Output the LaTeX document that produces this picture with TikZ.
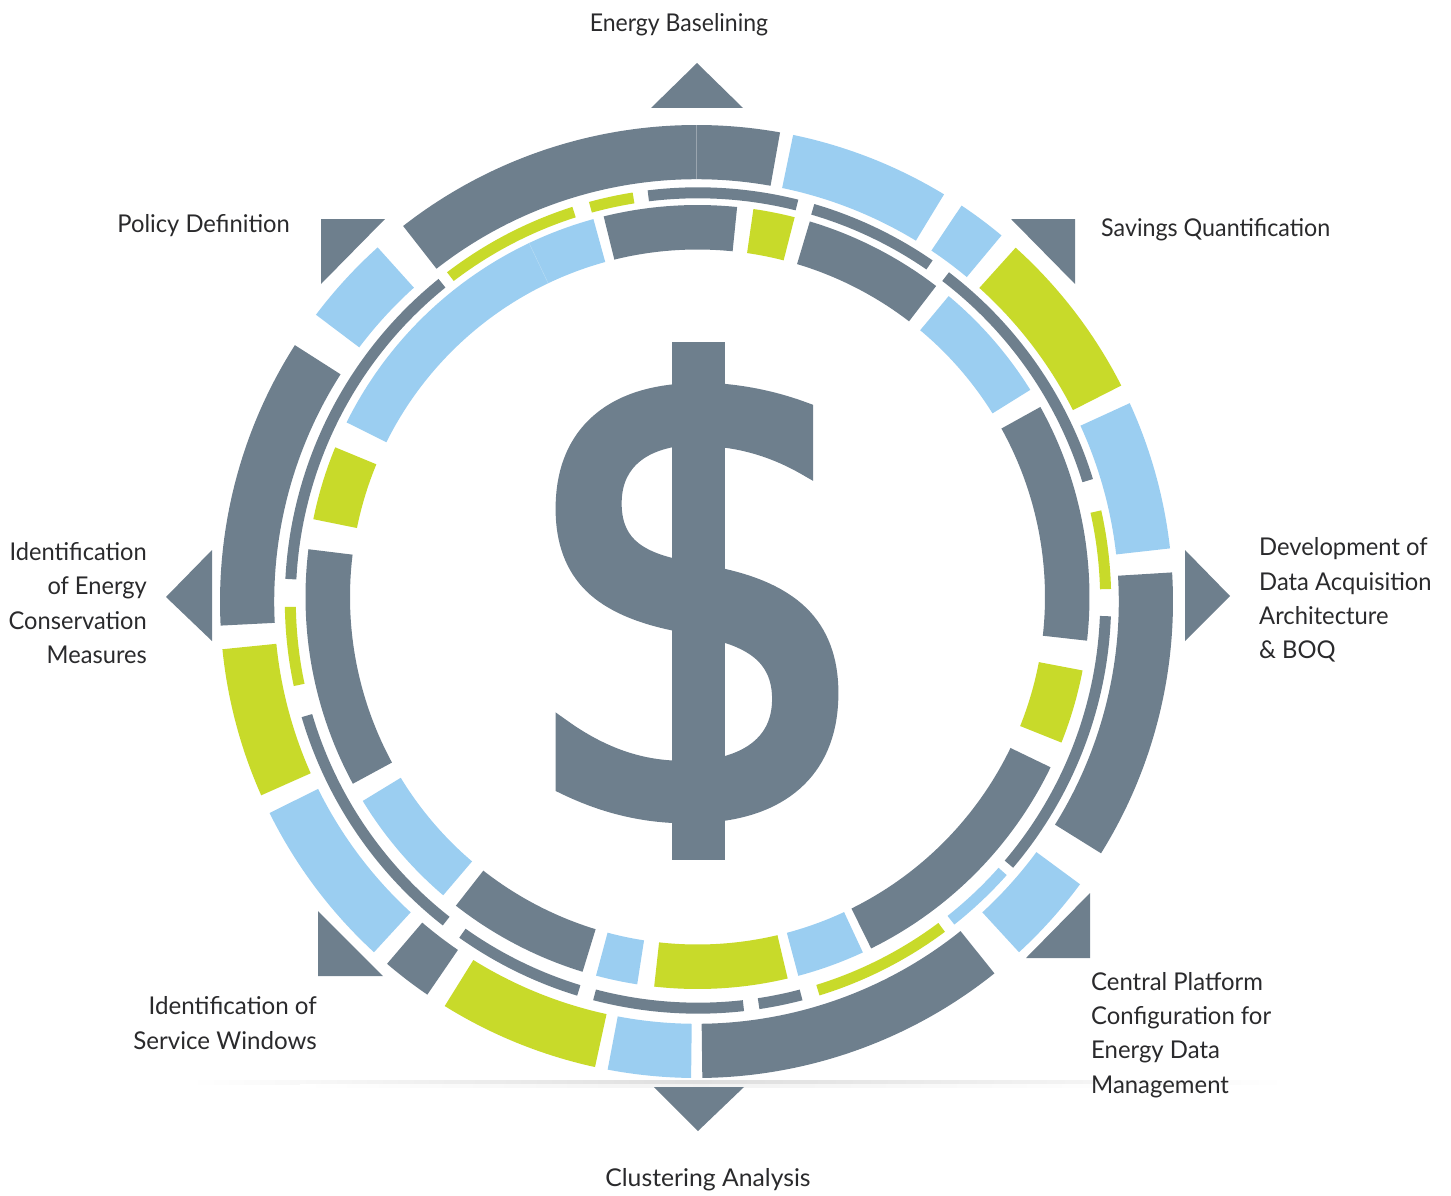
\documentclass[tikz,border=0pt]{standalone}
\usepackage{fontspec}
\setmainfont{Lato}
\newfontfamily\dollarfont{DejaVu Sans}[FakeBold=2.6]
\definecolor{slatec}{HTML}{6E7F8D}
\definecolor{skyc}{HTML}{9BCEF1}
\definecolor{limec}{HTML}{C8DA2A}
\definecolor{inkc}{HTML}{2A2A2C}
\newcommand{\ringseg}[5]{\fill[#5] (#3:#1) arc[start angle=#3,end angle=#4,radius=#1] -- (#4:#2) arc[start angle=#4,end angle=#3,radius=#2] -- cycle;}
\tikzset{
  lbl/.style={font=\fontsize{24.5}{34.3}\selectfont,text=inkc,inner sep=0pt},
  lblL/.style={lbl,align=right,anchor=east},
  lblR/.style={lbl,align=left,anchor=west},
  lblC/.style={lbl,align=center},
  marker/.style={fill=slatec}
}
\begin{document}
\begin{tikzpicture}[x=1pt,y=-1pt]
\useasboundingbox (0,0) rectangle (1451,1196);
% faint shadow line
\shade[left color=white,right color=gray!26] (190,1080) rectangle (700,1084);
\shade[left color=gray!26,right color=white] (700,1080) rectangle (1285,1084);
\shade[left color=white,right color=gray!10] (300,1084) rectangle (700,1087);
\shade[left color=gray!10,right color=white] (700,1084) rectangle (1150,1087);
% outer ring
\begin{scope}[shift={(696.5,601.5)},y=1pt]
\def\ra{476.5}\def\rb{422.3}
\ringseg{\ra}{\rb}{79.9}{128}{slatec}
\ringseg{\ra}{\rb}{58.7}{78.3}{skyc}
\ringseg{\ra}{\rb}{50.2}{56.2}{skyc}
\ringseg{\ra}{\rb}{26.95}{47.95}{limec}
\ringseg{\ra}{\rb}{6.4}{24.6}{skyc}
\ringseg{\ra}{\rb}{-31.9}{3.5}{slatec}
\ringseg{\ra}{\rb}{-47.4}{-36.4}{skyc}
\ringseg{\ra}{\rb}{-89.3}{-51.3}{slatec}
\ringseg{\ra}{\rb}{-100.75}{-90.65}{skyc}
\ringseg{\ra}{\rb}{-121.9}{-102.3}{limec}
\ringseg{\ra}{\rb}{-130.5}{-124.4}{slatec}
\ringseg{\ra}{\rb}{-153.65}{-132.6}{skyc}
\ringseg{\ra}{\rb}{-174.25}{-156}{limec}
\ringseg{\ra}{\rb}{147.45}{182.9}{slatec}
\ringseg{\ra}{\rb}{132}{143}{skyc}
\draw[slatec!70!white,line width=0.5pt] (90:\rb) -- (90:\ra);
\end{scope}
% middle ring
\begin{scope}[shift={(698,600.5)},y=1pt]
\def\ra{413.2}\def\rb{402.2}
\ringseg{\ra}{\rb}{75.95}{97}{slatec}
\ringseg{\ra}{\rb}{99.1}{105.3}{limec}
\ringseg{\ra}{\rb}{107.7}{127.4}{limec}
\ringseg{\ra}{\rb}{55.4}{73.65}{slatec}
\ringseg{\ra}{\rb}{17.1}{52.6}{slatec}
\ringseg{\ra}{\rb}{1.6}{12.6}{limec}
\ringseg{\ra}{\rb}{-40.3}{-2.2}{slatec}
\ringseg{\ra}{\rb}{-51.65}{-41.65}{skyc}
\ringseg{\ra}{\rb}{-72.9}{-53.3}{limec}
\ringseg{\ra}{\rb}{-81.45}{-75.35}{slatec}
\ringseg{\ra}{\rb}{-104.7}{-83.6}{slatec}
\ringseg{\ra}{\rb}{-125.3}{-107}{slatec}
\ringseg{\ra}{\rb}{-163.6}{-128.15}{slatec}
\ringseg{\ra}{\rb}{-179.1}{-168.05}{limec}
\ringseg{\ra}{\rb}{128.9}{177}{slatec}
\end{scope}
% inner ring
\begin{scope}[shift={(697.5,597)},y=1pt]
\def\ra{392}\def\rb{347.5}
\ringseg{\ra}{\rb}{84.2}{103.85}{slatec}
\ringseg{\ra}{\rb}{75.65}{81.8}{limec}
\ringseg{\ra}{\rb}{52.5}{73.35}{slatec}
\ringseg{\ra}{\rb}{31.9}{50.15}{skyc}
\ringseg{\ra}{\rb}{-6.4}{29}{slatec}
\ringseg{\ra}{\rb}{-21.8}{-10.8}{limec}
\ringseg{\ra}{\rb}{-63.7}{-25.75}{slatec}
\ringseg{\ra}{\rb}{-75.1}{-65.05}{skyc}
\ringseg{\ra}{\rb}{-96.35}{-76.7}{limec}
\ringseg{\ra}{\rb}{-105}{-98.85}{skyc}
\ringseg{\ra}{\rb}{-128.05}{-107.05}{slatec}
\ringseg{\ra}{\rb}{-148.65}{-130.45}{skyc}
\ringseg{\ra}{\rb}{173}{208.45}{slatec}
\ringseg{\ra}{\rb}{157.55}{168.55}{limec}
\ringseg{\ra}{\rb}{105.4}{153.55}{skyc}
\draw[skyc!70!white,line width=0.4pt] (115.45:\rb) -- (115.45:\ra);
\end{scope}
% triangles
\fill[marker] (697,63) -- (743,108) -- (651,108) -- cycle;
\fill[marker] (1185,550) -- (1230,596) -- (1185,641) -- cycle;
\fill[marker] (654,1087) -- (744,1087) -- (698,1131) -- cycle;
\fill[marker] (212,550) -- (166,597) -- (212,641) -- cycle;
\fill[marker] (1011,219) -- (1075,219) -- (1075,284) -- cycle;
\fill[marker] (321,219) -- (385,219) -- (321,284) -- cycle;
\fill[marker] (1090,893) -- (1090,958) -- (1026,958) -- cycle;
\fill[marker] (318,911) -- (318,976) -- (383,976) -- cycle;
% dollar
\fill[marker] (672,342) rectangle (724.5,860);
\begin{scope}
\clip (500,343) rectangle (900,859);
\node[text=slatec,inner sep=0pt,xscale=0.87,font=\dollarfont\fontsize{655}{655}\selectfont] (dollar) at (697,614) {\$};
\end{scope}
% labels
\node[lblC,xscale=.94] (baseline) at (679,25) {Energy Baselining};
\node[lblR,xscale=.95] (savings) at (1101,230) {Savings Quantification};
\node[lblL,xscale=.97] (policy) at (290,226) {Policy Definition};
\node[lblR,xscale=.97] (data) at (1259,600) {Development of\\Data Acquisition\\Architecture\\\& BOQ};
\node[lblL,xscale=.965] (ecm) at (147,603) {Identification\\of Energy\\Conservation\\Measures};
\node[lblR,xscale=.975] (central) at (1091,1035) {Central Platform\\Configuration for\\Energy Data\\Management};
\node[lblL,xscale=.985] (service) at (317,1023) {Identification of\\Service Windows};
\node[lblC,xscale=1.01] (cluster) at (708,1180) {Clustering Analysis};
\end{tikzpicture}
\end{document}
